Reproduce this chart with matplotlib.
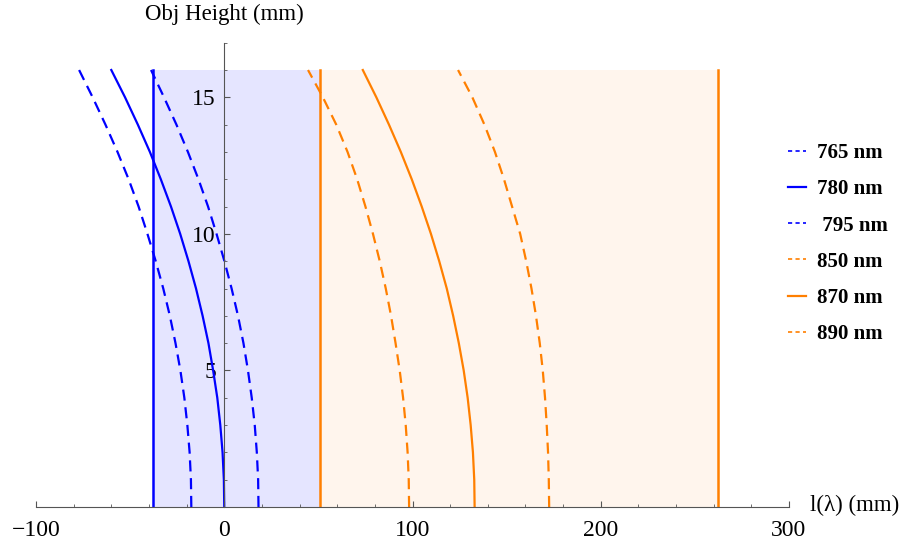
import matplotlib
matplotlib.use("Agg")
import matplotlib.pyplot as plt
from matplotlib.lines import Line2D
from matplotlib.ticker import MultipleLocator

plt.rcParams['font.family'] = ['Liberation Serif', 'DejaVu Serif']
plt.rcParams['axes.unicode_minus'] = True

# ------------------------------
# Data
# ------------------------------
heights = [0, 1, 2, 3, 4, 5, 6, 7, 8, 9, 10, 11, 12, 13, 14, 15, 16]   # Obj height (mm)
x_765 = [-17.5, -17.7, -18.4, -19.6, -21.2, -23.3, -25.9, -28.9, -32.4,
         -36.4, -40.8, -45.5, -50.8, -56.7, -63.1, -69.9, -77.1]
x_780 = [0.0, -0.2, -0.9, -2.1, -3.7, -5.9, -8.4, -11.5, -15.0,
         -19.0, -23.4, -28.3, -33.7, -39.5, -45.9, -52.7, -60.0]
x_795 = [18.2, 18.0, 17.3, 16.2, 14.6, 12.6, 10.2, 7.3, 3.9,
         0.1, -4.1, -8.6, -13.7, -19.3, -25.4, -32.0, -38.9]
x_850 = [98.2, 98.0, 97.4, 96.4, 95.0, 93.2, 91.0, 88.6, 85.8,
         82.6, 79.0, 75.0, 70.6, 65.5, 59.5, 52.4, 44.5]
x_870 = [133.0, 132.8, 132.1, 130.9, 129.3, 127.2, 124.6, 121.6, 118.2,
         114.2, 109.8, 104.9, 99.6, 93.8, 87.5, 80.8, 73.6]
x_890 = [172.6, 172.4, 172.0, 171.3, 170.4, 169.2, 167.6, 165.6, 163.2,
         160.4, 157.2, 152.9, 148.6, 143.8, 138.2, 131.8, 124.2]

blue_band = [-37.7, 51.0]     # shaded range, blue
orange_band = [51.0, 262.3]   # shaded range, orange
band_top = 16

labels = ['765 nm', '780 nm', ' 795 nm', '850 nm', '870 nm', '890 nm']

BLUE = '#0000ff'
ORANGE = '#ff7f00'

# ------------------------------
# Figure
# ------------------------------
fig = plt.figure(figsize=(9, 5.44), dpi=100)
ax = fig.add_axes([36 / 900, 37 / 544, (789 - 36) / 900, (507 - 42.7) / 544])
ax.set_xlim(-100, 300)
ax.set_ylim(0, 17)

# shaded bands
ax.fill_between(blue_band, 0, band_top, color=BLUE, alpha=0.1, lw=0)
ax.fill_between(orange_band, 0, band_top, color=ORANGE, alpha=0.07, lw=0)

# vertical edges
ax.plot([blue_band[0]] * 2, [0, band_top], color=BLUE, lw=1.8)
ax.plot([orange_band[0]] * 2, [0, band_top], color=ORANGE, lw=1.8)
ax.plot([orange_band[1]] * 2, [0, band_top], color=ORANGE, lw=1.8)

dash = (5, 3)
ax.plot(x_765, heights, color=BLUE, lw=1.6, dashes=dash)
ax.plot(x_780, heights, color=BLUE, lw=1.6)
ax.plot(x_795, heights, color=BLUE, lw=1.6, dashes=dash)
ax.plot(x_850, heights, color=ORANGE, lw=1.6, dashes=dash)
ax.plot(x_870, heights, color=ORANGE, lw=1.6)
ax.plot(x_890, heights, color=ORANGE, lw=1.6, dashes=dash)

# ------------------------------
# Axes through the origin
# ------------------------------
for s in ['top', 'right']:
    ax.spines[s].set_visible(False)
ax.spines['left'].set_position(('data', 0))
ax.spines['bottom'].set_position(('data', 0))
for s in ['left', 'bottom']:
    ax.spines[s].set_color('#555555')
    ax.spines[s].set_linewidth(0.8)

ax.set_xticks([-100, 0, 100, 200, 300])
ax.set_xticklabels(['\u2212100', '0', '100', '200', '300'])
ax.xaxis.set_minor_locator(MultipleLocator(20))
ax.set_yticks([5, 10, 15])
ax.yaxis.set_minor_locator(MultipleLocator(1))
ax.tick_params(which='both', direction='in', color='#555555', labelsize=17)
ax.tick_params(which='major', length=4.5, width=0.8)
ax.tick_params(which='minor', length=2.5, width=0.6)
ax.tick_params(axis='x', pad=9)
ax.tick_params(axis='y', pad=6)

ax.text(0, 18.05, 'Obj Height (mm)', ha='center', va='center', fontsize=16.5, clip_on=False)
ax.text(311, 0.05, 'l(\u03bb) (mm)', ha='left', va='center', fontsize=16.5, clip_on=False)

# ------------------------------
# Legend
# ------------------------------
hdash = (2.5, 2)
handles = [
    Line2D([], [], color=BLUE, lw=1.2, dashes=hdash),
    Line2D([], [], color=BLUE, lw=1.6),
    Line2D([], [], color=BLUE, lw=1.2, dashes=hdash),
    Line2D([], [], color=ORANGE, lw=1.2, dashes=hdash),
    Line2D([], [], color=ORANGE, lw=1.6),
    Line2D([], [], color=ORANGE, lw=1.2, dashes=hdash),
]
fig.legend(handles, labels, loc='upper left', bbox_to_anchor=(788 / 900, 1 - 143 / 544),
           frameon=False, borderpad=0, borderaxespad=0, handlelength=0.85,
           handletextpad=0.55, labelspacing=0.78,
           prop={'family': 'Liberation Serif', 'weight': 'bold', 'size': 15})

fig.savefig('out.png', dpi=100)
plt.close(fig)
